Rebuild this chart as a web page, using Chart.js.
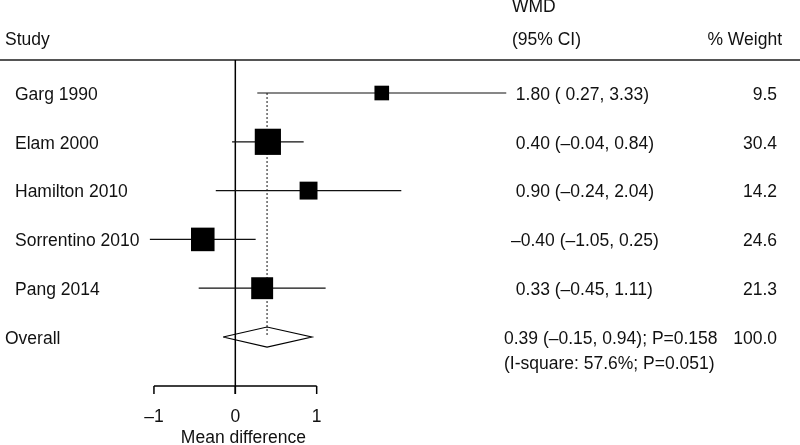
<!DOCTYPE html>
<html>
<head>
<meta charset="utf-8">
<script src="https://cdn.jsdelivr.net/npm/chart.js@4"></script>
<style>
  html, body { margin: 0; padding: 0; background: #fff; }
  #wrap { width: 800px; height: 445px; position: relative; }
</style>
</head>
<body>
<div id="wrap"><canvas id="forest"></canvas></div>
<script>
// Study data
const studies = ["Garg 1990", "Elam 2000", "Hamilton 2010", "Sorrentino 2010", "Pang 2014"];
const wmd = [1.80, 0.40, 0.90, -0.40, 0.33];
const ciLow = [0.27, -0.04, -0.24, -1.05, -0.45];
const ciHigh = [3.33, 0.84, 2.04, 0.25, 1.11];
const weights = [9.5, 30.4, 14.2, 24.6, 21.3];

// Pooled estimate
const overallLabel = "Overall";
const overallWmd = 0.39;
const overallLow = -0.15;
const overallHigh = 0.94;
const overallP = "0.158";
const overallWeight = "100.0";
const heterogeneity = "(I-square: 57.6%; P=0.051)";

// x axis ticks
const xTicks = [-1, 0, 1];

const FONT = "17.5px 'Liberation Sans', Arial, Helvetica, sans-serif";
const overallRow = studies.length;

const fmt = v => (v < 0 ? "\u2013" : "") + Math.abs(v).toFixed(2);
const fmtPad = v => (v < 0 ? "" : " ") + fmt(v);

// CI whiskers, separated by gaps
const ciData = [];
studies.forEach((s, i) => {
  ciData.push({ x: ciLow[i], y: i }, { x: ciHigh[i], y: i }, { x: null, y: null });
});

const boxData = studies.map((s, i) => ({ x: wmd[i], y: i }));
const diamondH = 0.205;
const diamondData = [
  { x: overallLow, y: overallRow },
  { x: overallWmd, y: overallRow - diamondH },
  { x: overallHigh, y: overallRow },
  { x: overallWmd, y: overallRow + diamondH },
  { x: overallLow, y: overallRow }
];
const pooledLine = [{ x: overallWmd, y: 0 }, { x: overallWmd, y: overallRow }];

// table text + axes drawn on top, positions from the scales
const tablePlugin = {
  id: "forestTable",
  beforeDatasetsDraw(chart) {
    const ctx = chart.ctx;
    const xs = chart.scales.x;
    const x0 = xs.getPixelForValue(0);
    ctx.save();
    // header rule
    ctx.strokeStyle = "#555";
    ctx.lineWidth = 2;
    ctx.beginPath();
    ctx.moveTo(0, 60); ctx.lineTo(800, 60);
    ctx.stroke();
    // null line
    ctx.strokeStyle = "#000";
    ctx.lineWidth = 1.5;
    ctx.beginPath();
    ctx.moveTo(x0, 60); ctx.lineTo(x0, 394);
    ctx.stroke();
    // x axis
    const xa = xs.getPixelForValue(xTicks[0]);
    const xb = xs.getPixelForValue(xTicks[xTicks.length - 1]);
    ctx.beginPath();
    ctx.moveTo(xa, 386); ctx.lineTo(xb, 386);
    xTicks.forEach(t => {
      const px = xs.getPixelForValue(t);
      ctx.moveTo(px, 386); ctx.lineTo(px, 394);
    });
    ctx.stroke();
    ctx.restore();
  },
  afterDraw(chart) {
    const ctx = chart.ctx;
    const xs = chart.scales.x, ys = chart.scales.y;
    ctx.save();
    ctx.font = FONT;
    ctx.fillStyle = "#111";
    ctx.textBaseline = "middle";
    // headers
    ctx.textAlign = "left";
    ctx.fillText("Study", 5, 40);
    ctx.fillText("WMD", 512, 7);
    ctx.fillText("(95% CI)", 512, 40);
    ctx.textAlign = "right";
    ctx.fillText("% Weight", 782, 40);
    // rows
    studies.forEach((s, i) => {
      const py = ys.getPixelForValue(i) + 2;
      ctx.textAlign = "left";
      ctx.fillText(s, 15, py);
      ctx.fillText(fmtPad(wmd[i]) + " (" + fmtPad(ciLow[i]) + ", " + fmt(ciHigh[i]) + ")", 511, py);
      ctx.textAlign = "right";
      ctx.fillText(weights[i].toFixed(1), 777, py);
    });
    const po = ys.getPixelForValue(overallRow) + 2;
    ctx.textAlign = "left";
    ctx.fillText(overallLabel, 5, po);
    ctx.fillText(fmt(overallWmd) + " (" + fmt(overallLow) + ", " + fmt(overallHigh) + "); P=" + overallP, 504, po);
    ctx.fillText(heterogeneity, 504, po + 25);
    ctx.textAlign = "right";
    ctx.fillText(overallWeight, 777, po);
    // tick labels
    ctx.textAlign = "center";
    xTicks.forEach(t => {
      ctx.fillText(t < 0 ? "\u2013" + Math.abs(t) : String(t), xs.getPixelForValue(t), 417);
    });
    ctx.fillText("Mean difference", xs.getPixelForValue(0.1), 438);
    ctx.restore();
  }
};

const ctx = document.getElementById("forest").getContext("2d");
const forest = new Chart(ctx, {
  type: "scatter",
  data: {
    datasets: [
      {
        label: "CI",
        type: "line",
        data: ciData,
        borderColor: "#111",
        borderWidth: 1.2,
        pointRadius: 0,
        spanGaps: false,
        order: 3
      },
      {
        label: "Pooled",
        type: "line",
        data: pooledLine,
        borderColor: "#111",
        borderWidth: 1,
        borderDash: [2, 2],
        pointRadius: 0,
        order: 4
      },
      {
        label: "WMD",
        data: boxData,
        pointStyle: "rect",
        pointRadius: studies.map((s, i) => 4.75 * Math.sqrt(weights[i]) / 1.414),
        backgroundColor: "#000",
        borderColor: "#000",
        borderWidth: 0,
        order: 1
      },
      {
        label: "Overall",
        type: "line",
        data: diamondData,
        borderColor: "#000",
        borderWidth: 1.2,
        backgroundColor: "#fff",
        fill: true,
        tension: 0,
        pointRadius: 0,
        order: 2
      }
    ]
  },
  options: {
    responsive: true,
    maintainAspectRatio: false,
    animation: false,
    layout: { padding: 0, autoPadding: false },
    plugins: { legend: { display: false }, tooltip: { enabled: false } },
    scales: {
      x: { type: "linear", display: false, min: -2.892, max: 6.94 },
      y: { type: "linear", display: false, reverse: true, min: -1.906, max: 7.213 }
    }
  },
  plugins: [tablePlugin]
});
</script>
</body>
</html>
